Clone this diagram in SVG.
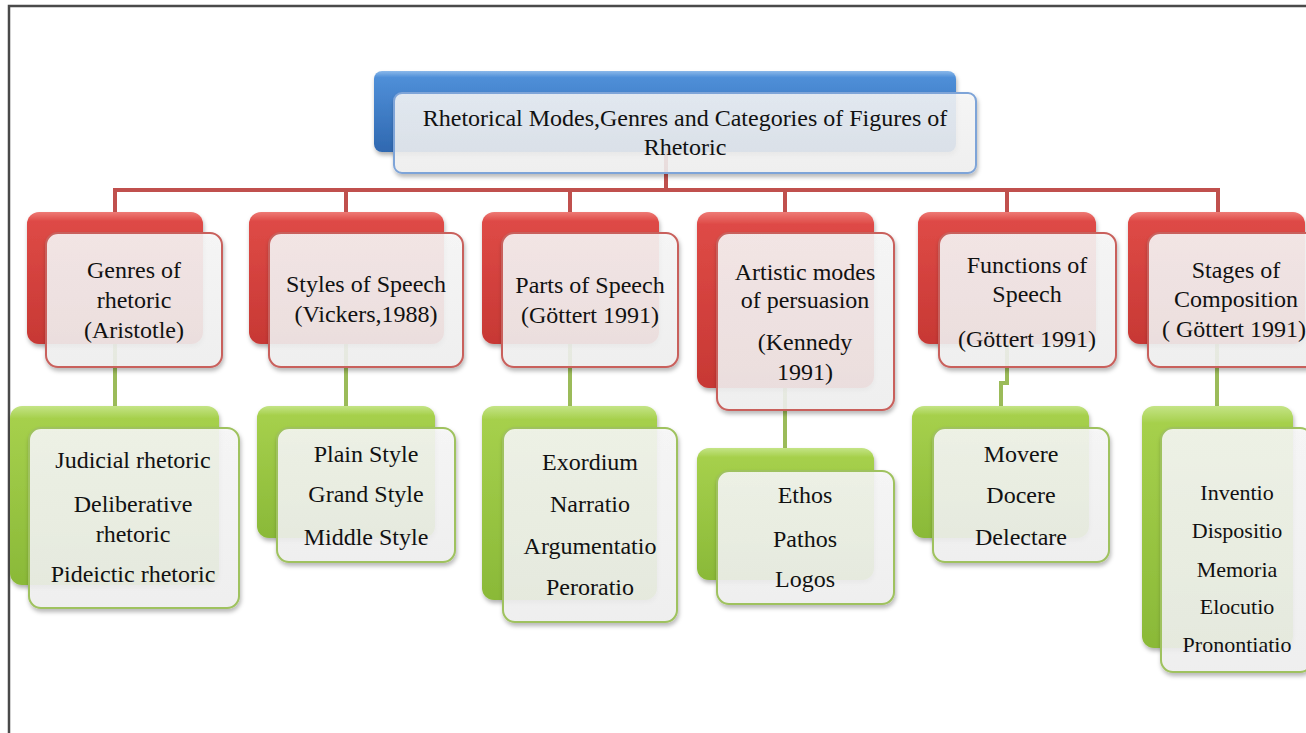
<svg xmlns="http://www.w3.org/2000/svg" width="1306" height="733" viewBox="0 0 1306 733">
  <defs>
    <linearGradient id="gRed" x1="0" y1="0" x2="0" y2="1">
      <stop offset="0" stop-color="#ee7a75"/>
      <stop offset="0.07" stop-color="#de4a46"/>
      <stop offset="1" stop-color="#c73834"/>
    </linearGradient>
    <linearGradient id="gGreen" x1="0" y1="0" x2="0" y2="1">
      <stop offset="0" stop-color="#c4e486"/>
      <stop offset="0.07" stop-color="#a6d04c"/>
      <stop offset="1" stop-color="#8ab938"/>
    </linearGradient>
    <linearGradient id="gBlue" x1="0" y1="0" x2="0" y2="1">
      <stop offset="0" stop-color="#8ab8ea"/>
      <stop offset="0.08" stop-color="#4f8fd8"/>
      <stop offset="1" stop-color="#2f68b0"/>
    </linearGradient>
    <linearGradient id="gCard" x1="0" y1="0" x2="0" y2="1">
      <stop offset="0" stop-color="#f8f8f8"/>
      <stop offset="1" stop-color="#f1f1f1"/>
    </linearGradient>
    <filter id="shadow" x="-10%" y="-10%" width="125%" height="130%">
      <feDropShadow dx="1" dy="3" stdDeviation="2" flood-color="#000" flood-opacity="0.3"/>
    </filter>
  </defs>
  <style>
    .frame { fill: none; stroke: #4a4a4a; stroke-width: 2.5; }
    .conn-red { fill: none; stroke: #c0504d; stroke-width: 4; }
    .conn-green { fill: none; stroke: #9bbb59; stroke-width: 4; }
    .back-red { fill: url(#gRed); filter: url(#shadow); }
    .back-green { fill: url(#gGreen); filter: url(#shadow); }
    .back-blue { fill: url(#gBlue); filter: url(#shadow); }
    .card { fill: url(#gCard); fill-opacity: 0.88; stroke-width: 2; filter: url(#shadow); }
    .card-red { stroke: #c9605c; }
    .card-green { stroke: #9fc25e; }
    .card-blue { stroke: #7ea4d8; fill-opacity: 0.86; }
    .label { font-size: 24px; fill: #111; text-anchor: middle; }
    .small { font-size: 22px; }
  </style>

  <!-- page frame -->
  <path class="frame" d="M9,733 V6 H1306"/>

  <!-- connectors -->
  <g id="connectors">
    <path class="conn-red" d="M666,152 V190"/>
    <path class="conn-red" d="M115,212 V190 H1218 V212"/>
    <path class="conn-red" d="M346,190 V212"/>
    <path class="conn-red" d="M570,190 V212"/>
    <path class="conn-red" d="M785,190 V212"/>
    <path class="conn-red" d="M1007,190 V212"/>
    <path class="conn-green" d="M115,344 V406"/>
    <path class="conn-green" d="M346,344 V406"/>
    <path class="conn-green" d="M570,344 V406"/>
    <path class="conn-green" d="M785,388 V448"/>
    <path class="conn-green" d="M1007,344 V383 H1001 V406"/>
    <path class="conn-green" d="M1217,344 V406"/>
  </g>

  <g font-family="'Liberation Serif', 'DejaVu Serif', serif">
  <!-- root -->
  <g id="root">
    <rect class="back-blue" x="374" y="71" width="582" height="81" rx="8"/>
    <rect class="card card-blue" x="394" y="93" width="582" height="80" rx="8"/>
    <text class="label" x="685" y="126">Rhetorical Modes,Genres and Categories of Figures of</text>
    <text class="label" x="685" y="155">Rhetoric</text>
  </g>

  <!-- first level -->
  <g id="genres">
    <rect class="back-red" x="27" y="212" width="176" height="132" rx="12"/>
    <rect class="card card-red" x="46" y="233" width="176" height="134" rx="12"/>
    <text class="label" x="134" y="278">Genres of</text>
    <text class="label" x="134" y="308">rhetoric</text>
    <text class="label" x="134" y="338">(Aristotle)</text>
  </g>
  <g id="styles">
    <rect class="back-red" x="249" y="212" width="195" height="132" rx="12"/>
    <rect class="card card-red" x="269" y="233" width="194" height="134" rx="12"/>
    <text class="label" x="366" y="292">Styles of Speech</text>
    <text class="label" x="366" y="322">(Vickers,1988)</text>
  </g>
  <g id="parts">
    <rect class="back-red" x="482" y="212" width="177" height="132" rx="12"/>
    <rect class="card card-red" x="502" y="233" width="176" height="134" rx="12"/>
    <text class="label" x="590" y="293">Parts of Speech</text>
    <text class="label" x="590" y="323">(Göttert 1991)</text>
  </g>
  <g id="persuasion">
    <rect class="back-red" x="697" y="212" width="177" height="176" rx="12"/>
    <rect class="card card-red" x="717" y="233" width="177" height="177" rx="12"/>
    <text class="label" x="805" y="280">Artistic modes</text>
    <text class="label" x="805" y="308">of persuasion</text>
    <text class="label" x="805" y="350">(Kennedy</text>
    <text class="label" x="805" y="380">1991)</text>
  </g>
  <g id="functions">
    <rect class="back-red" x="918" y="212" width="178" height="132" rx="12"/>
    <rect class="card card-red" x="939" y="233" width="177" height="134" rx="12"/>
    <text class="label" x="1027" y="273">Functions of</text>
    <text class="label" x="1027" y="302">Speech</text>
    <text class="label" x="1027" y="347">(Göttert 1991)</text>
  </g>
  <g id="stages">
    <rect class="back-red" x="1128" y="212" width="177" height="132" rx="12"/>
    <rect class="card card-red" x="1148" y="233" width="177" height="134" rx="12"/>
    <text class="label" x="1236" y="278">Stages of</text>
    <text class="label" x="1236" y="307">Composition</text>
    <text class="label" x="1234" y="337">( Göttert 1991)</text>
  </g>

  <!-- second level -->
  <g id="genres-list">
    <rect class="back-green" x="10" y="406" width="209" height="179" rx="12"/>
    <rect class="card card-green" x="29" y="428" width="210" height="180" rx="12"/>
    <text class="label" x="133" y="468">Judicial rhetoric</text>
    <text class="label" x="133" y="512">Deliberative</text>
    <text class="label" x="133" y="542">rhetoric</text>
    <text class="label" x="133" y="582">Pideictic rhetoric</text>
  </g>
  <g id="styles-list">
    <rect class="back-green" x="257" y="406" width="178" height="132" rx="12"/>
    <rect class="card card-green" x="277" y="428" width="178" height="134" rx="12"/>
    <text class="label" x="366" y="462">Plain Style</text>
    <text class="label" x="366" y="502">Grand Style</text>
    <text class="label" x="366" y="545">Middle Style</text>
  </g>
  <g id="parts-list">
    <rect class="back-green" x="482" y="406" width="175" height="194" rx="12"/>
    <rect class="card card-green" x="503" y="428" width="174" height="194" rx="12"/>
    <text class="label" x="590" y="470">Exordium</text>
    <text class="label" x="590" y="512">Narratio</text>
    <text class="label" x="590" y="554">Argumentatio</text>
    <text class="label" x="590" y="595">Peroratio</text>
  </g>
  <g id="persuasion-list">
    <rect class="back-green" x="697" y="448" width="177" height="132" rx="12"/>
    <rect class="card card-green" x="717" y="471" width="177" height="133" rx="12"/>
    <text class="label" x="805" y="503">Ethos</text>
    <text class="label" x="805" y="547">Pathos</text>
    <text class="label" x="805" y="587">Logos</text>
  </g>
  <g id="functions-list">
    <rect class="back-green" x="912" y="406" width="177" height="132" rx="12"/>
    <rect class="card card-green" x="933" y="428" width="176" height="134" rx="12"/>
    <text class="label" x="1021" y="462">Movere</text>
    <text class="label" x="1021" y="503">Docere</text>
    <text class="label" x="1021" y="545">Delectare</text>
  </g>
  <g id="stages-list">
    <rect class="back-green" x="1142" y="406" width="151" height="242" rx="12"/>
    <rect class="card card-green" x="1161" y="428" width="151" height="244" rx="12"/>
    <text class="label small" x="1237" y="500">Inventio</text>
    <text class="label small" x="1237" y="538">Dispositio</text>
    <text class="label small" x="1237" y="577">Memoria</text>
    <text class="label small" x="1237" y="614">Elocutio</text>
    <text class="label small" x="1237" y="652">Pronontiatio</text>
  </g>
  </g>
</svg>
